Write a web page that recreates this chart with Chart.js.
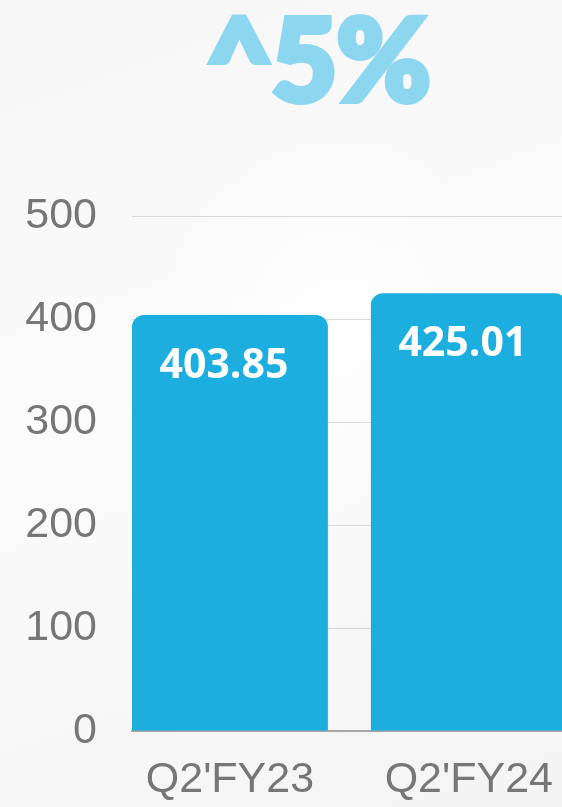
<!DOCTYPE html>
<html>
<head>
<meta charset="utf-8">
<title>Q2 comparison</title>
<script src="https://cdn.jsdelivr.net/npm/chart.js@4.4.1/dist/chart.umd.min.js"></script>
<style>
    html, body {
        margin: 0;
        padding: 0;
    }
    body {
        width: 562px;
        height: 807px;
        overflow: hidden;
        position: relative;
        background:
            radial-gradient(ellipse 260px 320px at 330px 330px, rgba(255,255,255,0.9), rgba(255,255,255,0) 70%),
            linear-gradient(160deg, #f6f6f6 0%, #fbfbfb 45%, #f4f4f4 100%);
    }
    #headline {
        position: absolute;
        left: 318px;
        top: 0px;
        transform: translateX(-50%);
        font-family: "Lato Black", "Lato Heavy", Lato, "Open Sans", sans-serif;
        font-weight: 900;
        font-size: 114px;
        line-height: 114px;
        color: #8dd6ef;
        white-space: nowrap;
        letter-spacing: -1px;
        -webkit-text-stroke: 6px #8dd6ef;
    }
    .chart-box {
        position: absolute;
        left: 0;
        top: 0;
        width: 562px;
        height: 807px;
    }
</style>
</head>
<body>
<div id="headline">^5%</div>
<div class="chart-box"><canvas id="qChart"></canvas></div>

<script>
// Data
const categories = ["Q2'FY23", "Q2'FY24"];
const revenue = [403.85, 425.01];
const yTicks = [0, 100, 200, 300, 400, 500];

const barColor = '#1daee0';
const axisText = '#767676';

// white value labels inside the top of each bar
const valueLabels = {
    id: 'valueLabels',
    afterDatasetsDraw(chart) {
        const ctx = chart.ctx;
        const meta = chart.getDatasetMeta(0);
        ctx.save();
        ctx.font = 'bold 41px "Open Sans"';
        ctx.fillStyle = '#ffffff';
        ctx.textAlign = 'center';
        ctx.textBaseline = 'middle';
        meta.data.forEach((bar, i) => {
            ctx.fillText(revenue[i].toFixed(2), bar.x - 6, bar.y + 51);
        });
        ctx.restore();
    }
};

function initChart() {
    const ctx = document.getElementById('qChart').getContext('2d');
    new Chart(ctx, {
        type: 'bar',
        data: {
            datasets: [{
                data: categories.map((c, i) => ({ x: i, y: revenue[i] })),
                backgroundColor: barColor,
                borderRadius: 12,
                borderSkipped: 'bottom',
                categoryPercentage: 1,
                barPercentage: 0.82
            }]
        },
        options: {
            responsive: true,
            maintainAspectRatio: false,
            animation: false,
            layout: { padding: { top: 216, left: 0, right: 0, bottom: 0 } },
            plugins: {
                legend: { display: false },
                tooltip: { enabled: false }
            },
            scales: {
                x: {
                    type: 'linear',
                    offset: false,
                    min: -0.41,
                    max: 1.39,
                    afterBuildTicks: s => { s.ticks = categories.map((c, i) => ({ value: i })); },
                    afterFit: s => {
                        s.height = 76;
                        s.paddingLeft = 0;
                        s.paddingRight = 0;
                    },
                    grid: { display: false, drawTicks: false, offset: false },
                    border: { display: true, color: '#a6a6a6', width: 2 },
                    ticks: {
                        callback: v => categories[v],
                        color: axisText,
                        font: { family: 'Liberation Sans', size: 43 },
                        padding: 23,
                        maxRotation: 0,
                        autoSkip: false
                    }
                },
                y: {
                    min: 0,
                    max: 500,
                    afterBuildTicks: s => { s.ticks = yTicks.map(v => ({ value: v })); },
                    afterFit: s => { s.width = 132; },
                    grid: {
                        color: c => c.tick && c.tick.value === 0 ? 'rgba(0,0,0,0)' : '#d9d9d9',
                        lineWidth: 1,
                        drawTicks: false
                    },
                    border: { display: false },
                    ticks: {
                        color: axisText,
                        font: { family: 'Liberation Sans', size: 43 },
                        padding: 35
                    }
                }
            }
        },
        plugins: [valueLabels]
    });
}

document.addEventListener('DOMContentLoaded', initChart);
</script>
</body>
</html>
